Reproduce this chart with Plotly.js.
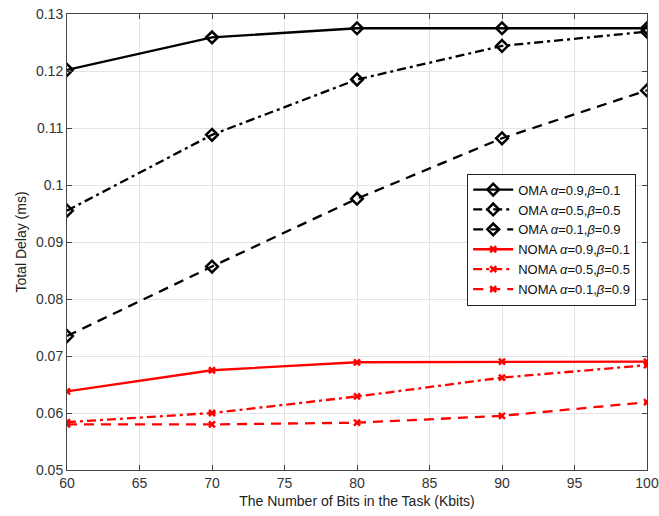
<!DOCTYPE html>
<html><head><meta charset="utf-8">
<script src="https://cdn.plot.ly/plotly-3.0.1.min.js"></script>
<style>body{margin:0;background:#fff}#c{width:659px;height:516px}</style>
</head><body><div id="c"></div>
<script>
const bits = [60, 70, 80, 90, 100];
const omaA09 = [0.1202, 0.1259, 0.1275, 0.1275, 0.1275];
const omaA05 = [0.0955, 0.1088, 0.1185, 0.1244, 0.1269];
const omaA01 = [0.0735, 0.0857, 0.0976, 0.1082, 0.1166];
const nomaA09 = [0.0638, 0.0675, 0.0689, 0.0690, 0.0690];
const nomaA05 = [0.0584, 0.0600, 0.0629, 0.0662, 0.0684];
const nomaA01 = [0.0580, 0.0580, 0.0583, 0.0595, 0.0619];
const names = [
  'OMA <i>α</i>=0.9,<i>β</i>=0.1',
  'OMA <i>α</i>=0.5,<i>β</i>=0.5',
  'OMA <i>α</i>=0.1,<i>β</i>=0.9',
  'NOMA <i>α</i>=0.9,<i>β</i>=0.1',
  'NOMA <i>α</i>=0.5,<i>β</i>=0.5',
  'NOMA <i>α</i>=0.1,<i>β</i>=0.9'
];
const series = [omaA09, omaA05, omaA01, nomaA09, nomaA05, nomaA01];
const dashes = ['solid', '9px,4px,3px,4px', '10px,7px', 'solid', '9px,4px,3px,4px', '10px,7px'];
const traces = series.map((y, i) => {
  const oma = i < 3;
  return {
    x: bits, y: y, name: names[i], type: 'scatter', mode: 'lines+markers',
    line: {color: oma ? '#000' : '#ff0000', width: 2.3, dash: dashes[i]},
    marker: oma ? {symbol: 'diamond-open', size: 9, color: '#000', line: {width: 2.5, color: '#000'}}
                : {symbol: 'x-thin-open', size: 6, color: '#ff0000', line: {width: 2.5, color: '#ff0000'}}
  };
});
const axisCommon = {
  showline: true, mirror: 'ticks', linecolor: '#444', linewidth: 1,
  ticks: 'inside', ticklen: 5, tickcolor: '#444',
  showgrid: true, gridcolor: '#e3e3e3', gridwidth: 1, zeroline: false,
  tickfont: {size: 14, color: '#333', family: 'Liberation Sans, Arial, sans-serif'}
};
const layout = {
  width: 659, height: 516,
  margin: {l: 67, r: 12, t: 14, b: 46},
  paper_bgcolor: '#fff', plot_bgcolor: '#fff',
  font: {family: 'Liberation Sans, Arial, sans-serif', size: 14, color: '#222'},
  showlegend: true,
  legend: {x: 0.69, y: 0.65, xanchor: 'left', yanchor: 'top',
           bgcolor: '#fff', bordercolor: '#222', borderwidth: 1,
           font: {size: 13, color: '#111'}, tracegroupgap: 0, itemwidth: 40},
  xaxis: Object.assign({}, axisCommon, {
    range: [60, 100], tickvals: [60, 65, 70, 75, 80, 85, 90, 95, 100],
    title: {text: 'The Number of Bits in the Task (Kbits)', standoff: 6, font: {size: 14, color: '#222'}}
  }),
  yaxis: Object.assign({}, axisCommon, {
    range: [0.05, 0.13], tickvals: [0.05, 0.06, 0.07, 0.08, 0.09, 0.1, 0.11, 0.12, 0.13],
    ticktext: ['0.05', '0.06', '0.07', '0.08', '0.09', '0.1', '0.11', '0.12', '0.13'],
    title: {text: 'Total Delay (ms)', standoff: 6, font: {size: 14, color: '#222'}}
  })
};
Plotly.newPlot('c', traces, layout, {displayModeBar: false});
</script></body></html>
